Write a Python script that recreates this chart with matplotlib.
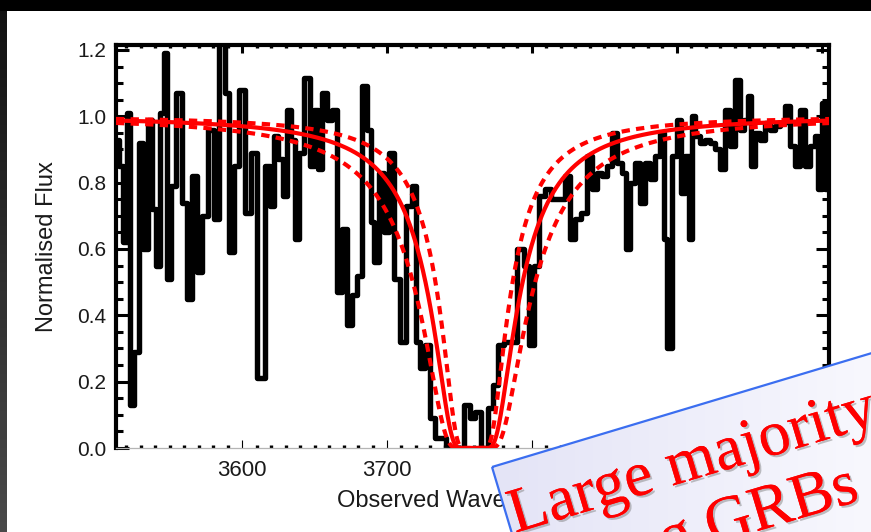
import numpy as np
import matplotlib
matplotlib.use("Agg")
import matplotlib.pyplot as plt
from matplotlib.ticker import MultipleLocator, FormatStrFormatter
from matplotlib.patches import Polygon, Rectangle
import matplotlib.patheffects as pe

# ---- observed spectrum (binned, normalised) ----
wavelength = [
    3514.2, 3516.6, 3519.0, 3521.8, 3524.1, 3527.1, 3530.3, 3533.3, 3536.3, 3539.0,
    3541.8, 3544.8, 3547.6, 3549.4, 3552.4, 3556.3, 3560.2, 3563.7, 3567.1, 3570.6,
    3574.7, 3578.6, 3582.1, 3586.2, 3589.7, 3592.4, 3595.9, 3600.0, 3604.1, 3607.6,
    3613.3,
    3617.7, 3620.2, 3623.4, 3626.4, 3629.4, 3632.6, 3635.6, 3637.9, 3640.9, 3645.2,
    3648.3, 3651.0, 3654.0, 3656.8, 3660.2, 3663.7, 3667.1, 3670.6, 3674.0, 3677.4,
    3680.9, 3684.3, 3687.8, 3689.7, 3692.4, 3695.9, 3699.3, 3702.8, 3706.9, 3711.4,
    3715.4, 3718.8, 3721.1, 3724.6, 3728.0, 3731.4, 3734.9, 3738.3, 3742.5, 3747.1,
    3751.0, 3755.2, 3759.0, 3762.5, 3767.1, 3771.7, 3775.2, 3778.6, 3782.8, 3787.0,
    3793.1, 3796.1, 3800.0, 3803.4, 3806.9, 3810.8,
    3814.9, 3820.7, 3824.6, 3828.0, 3832.1, 3836.1, 3839.5, 3843.0, 3846.4, 3849.9,
    3853.3, 3856.8, 3860.2, 3863.7, 3866.6, 3869.4, 3872.8, 3876.3, 3879.7, 3883.2,
    3886.6, 3890.1, 3891.9, 3894.9, 3898.1, 3901.6, 3903.9, 3907.3, 3909.2, 3911.4,
    3914.2, 3917.7, 3921.1, 3924.6, 3928.0, 3931.4, 3934.9, 3938.3, 3941.8, 3944.8,
    3947.6, 3950.1, 3952.4, 3955.6, 3959.0, 3962.5, 3965.9, 3969.4, 3972.8, 3976.3,
    3979.7, 3983.2, 3986.6, 3990.1, 3993.5, 3996.6, 3998.8, 4001.1, 4003.4,
]
flux = [
    0.93, 0.85, 0.62, 1.01, 0.13, 0.29, 0.92, 0.60, 0.99, 0.72,
    0.55, 1.01, 1.19, 0.51, 0.79, 1.07, 0.74, 0.45, 0.82, 0.53,
    0.70, 0.96, 0.69, 1.23, 1.07, 0.59, 0.85, 1.08, 0.71, 0.89,
    0.21,
    0.85, 0.73, 0.94, 0.87, 0.76, 1.02, 0.93, 0.63, 0.89, 1.115,
    0.85, 1.02, 0.84, 1.07, 0.99, 1.02, 0.47, 0.66, 0.37, 0.46,
    0.52, 1.09, 0.96, 0.68, 0.56, 0.83, 0.65, 0.89, 0.51, 0.32,
    0.73, 0.79, 0.32, 0.24, 0.31, 0.09, 0.03, 0.03, 0.0, 0.0,
    0.0, 0.13, 0.09, 0.11, 0.0, 0.12, 0.19, 0.31, 0.32, 0.32,
    0.60, 0.55, 0.31, 0.55, 0.76, 0.78,
    0.75, 0.75, 0.82, 0.63, 0.69, 0.71, 0.88, 0.78, 0.83, 0.82,
    0.85, 0.95, 0.86, 0.83, 0.60, 0.80, 0.86, 0.74, 0.86, 0.81,
    0.88, 0.95, 0.63, 0.30, 0.88, 0.99, 0.77, 0.88, 0.63, 1.00,
    0.94, 0.92, 0.93, 0.92, 0.90, 0.84, 1.02, 0.91, 1.11, 0.96,
    0.99, 1.06, 0.85, 0.95, 0.93, 0.98, 0.96, 0.97, 0.98, 1.03,
    0.91, 0.85, 1.02, 0.85, 0.91, 0.94, 0.78, 1.04, 0.78,
]

# ---- DLA damping-wing fit ----
z_abs = 2.093
lya_rest = 1215.67
logN_best = 20.30
logN_err = 0.20

x_range = (3513.0, 4005.0)
y_range = (0.0, 1.215)


def damping_profile(lam, logN):
    """Lorentzian (damping wing) Lyman-alpha transmission."""
    lam_c = lya_rest * (1.0 + z_abs)
    sigma = 3.9e-18 / ((lam - lam_c) ** 2 + 1e-4)
    return np.exp(-(10.0 ** logN) * sigma)


FW, FH = 871, 532
fig = plt.figure(figsize=(FW / 100, FH / 100), dpi=100)
fig.patch.set_facecolor("white")

ax = fig.add_axes([116 / FW, 84 / FH, 713 / FW, 403 / FH])
ax.set_facecolor("white")

ax.plot(wavelength, flux, drawstyle="steps-mid", color="black", lw=3.9,
        solid_joinstyle="round", solid_capstyle="round", zorder=2)

grid = np.linspace(x_range[0], x_range[1], 3000)
ax.plot(grid, damping_profile(grid, logN_best), color="#ff0000", lw=3.0, zorder=3)
for dn in (-logN_err, logN_err):
    ax.plot(grid, damping_profile(grid, logN_best + dn), color="#ff0000", lw=3.0,
            ls=(0, (2.0, 1.5)), zorder=3)

ax.set_xlim(*x_range)
ax.set_ylim(*y_range)

ax.xaxis.set_major_locator(MultipleLocator(100))
ax.xaxis.set_minor_locator(MultipleLocator(10))
ax.yaxis.set_major_locator(MultipleLocator(0.2))
ax.yaxis.set_minor_locator(MultipleLocator(0.05))
ax.yaxis.set_major_formatter(FormatStrFormatter("%.1f"))

lab_col = "#1a1a1a"
ax.tick_params(axis="y", which="major", direction="in", length=9.5, width=2.2,
               left=True, right=True, labelsize=15, pad=7, labelcolor=lab_col)
ax.tick_params(axis="y", which="minor", direction="in", length=5, width=2.2,
               left=True, right=True)
ax.tick_params(axis="x", which="major", direction="in", length=6, width=2.2,
               top=True, bottom=True, labelsize=16, pad=9, labelcolor=lab_col)
ax.tick_params(axis="x", which="minor", direction="in", length=2.5, width=2.4,
               top=True, bottom=True)
for t in ax.xaxis.get_major_ticks():
    t.tick1line.set_color("#9a9a9a")
    t.tick1line.set_markeredgewidth(0.8)
for lbl in ax.get_xticklabels() + ax.get_yticklabels():
    lbl.set_family("Liberation Sans")

for side in ("left", "top", "right"):
    ax.spines[side].set_linewidth(3.0)
    ax.spines[side].set_color("black")
ax.spines["bottom"].set_linewidth(0.9)
ax.spines["bottom"].set_color("#b5b5b5")

ax.set_ylabel("Normalised Flux", fontsize=17, family="Liberation Sans", color=lab_col)
ax.yaxis.set_label_coords(-0.081, 0.5)
ax.set_xlabel("Observed Wavelength (Å)", fontsize=17, family="Liberation Sans",
              color=lab_col)
ax.xaxis.set_label_coords(0.5, -0.094)

# ---- overlay layer in pixel coordinates ----
ov = fig.add_axes([0, 0, 1, 1], zorder=5)
ov.set_xlim(0, FW)
ov.set_ylim(FH, 0)
ov.axis("off")

# dark frame at the top and left edges
ov.add_patch(Rectangle((0, 0), FW, 11, facecolor="black", edgecolor="none"))
side_grad = np.linspace(0.07, 0.29, 200)[:, None, None] * np.ones((1, 1, 3))
ov.imshow(side_grad, extent=(0, 6.5, FH, 11), aspect="auto", zorder=1)

# tilted callout box
theta = np.deg2rad(16.7)
u = np.array([np.cos(theta), -np.sin(theta)])
v = np.array([np.sin(theta), np.cos(theta)])
p0 = np.array([492.0, 467.0])
box_w, box_h = 520.0, 320.0
corners = np.array([p0, p0 + box_w * u, p0 + box_w * u + box_h * v, p0 + box_h * v])

gx = np.linspace(0, 1, 256)[None, :]
c0 = np.array([0.890, 0.890, 0.965])
c1 = np.array([0.972, 0.972, 0.995])
box_grad = c0[None, None, :] * (1 - gx[..., None]) + c1[None, None, :] * gx[..., None]
box_grad = np.repeat(box_grad, 8, axis=0)
clip = Polygon(corners, closed=True, transform=ov.transData, facecolor="none",
               edgecolor="none")
ov.add_patch(clip)
im = ov.imshow(box_grad, extent=(480, FW, FH, 340), aspect="auto", zorder=2)
im.set_clip_path(clip)
ov.add_patch(Polygon(corners, closed=True, facecolor="none", edgecolor="#3b6ef0",
                     lw=1.6, zorder=3))

shadow = [pe.withSimplePatchShadow(offset=(1.5, -1.5), shadow_rgbFace="#777777",
                                   alpha=0.45), pe.Normal()]
origin1 = np.array([515.0, 533.0])
origin2 = origin1 + 68.0 * v - 14.0 * u
for org, txt in ((origin1, "Large majority"), (origin2, "of long GRBs")):
    ov.text(org[0], org[1], txt, rotation=np.rad2deg(theta), rotation_mode="anchor",
            ha="left", va="baseline", fontsize=46, family="Liberation Serif",
            color="#ff0000", path_effects=shadow, zorder=4)

ov.set_xlim(0, FW)
ov.set_ylim(FH, 0)

fig.savefig("out.png", dpi=100, facecolor="white")
